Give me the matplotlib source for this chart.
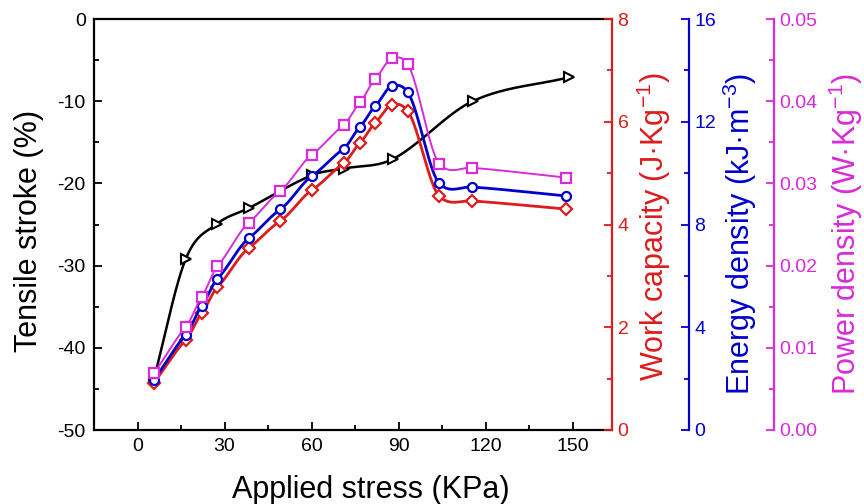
import numpy as np
import matplotlib.pyplot as plt
from matplotlib.ticker import MultipleLocator, FixedLocator, FormatStrFormatter

plt.rcParams['font.family'] = ['Liberation Sans', 'DejaVu Sans']
plt.rcParams['mathtext.fontset'] = 'custom'
plt.rcParams['mathtext.rm'] = 'Liberation Sans'
plt.rcParams['mathtext.it'] = 'Liberation Sans'
plt.rcParams['axes.unicode_minus'] = False

# tensile stroke (black, left axis)
stress_stroke = [5.7, 16.6, 27.5, 38.4, 60.1, 71.0, 88.2, 115.5, 148.6]
stroke = [-43.7, -29.2, -24.9, -23.0, -19.0, -18.2, -17.0, -10.0, -7.1]

# work capacity / energy density / power density (right axes)
stress = [5.7, 16.6, 22.1, 27.5, 38.3, 49.2, 60.1, 71.0, 76.7, 81.9, 87.6, 93.1, 104.0, 115.1, 147.8]
work = [0.92, 1.75, 2.27, 2.78, 3.54, 4.07, 4.67, 5.19, 5.59, 5.98, 6.33, 6.21, 4.55, 4.46, 4.30]
energy = [1.95, 3.70, 4.83, 5.88, 7.46, 8.59, 9.89, 10.95, 11.81, 12.61, 13.39, 13.15, 9.60, 9.46, 9.11]
power = [0.0069, 0.0125, 0.0162, 0.0199, 0.0252, 0.0291, 0.0335, 0.0371, 0.0399,
         0.0427, 0.0452, 0.0445, 0.0324, 0.0319, 0.0307]

RED = '#dd1c1c'
BLUE = '#0000cc'
MAG = '#d92bd9'


def spline(x, y, tension=0.0, n=40):
    # cardinal spline through the points
    x = np.asarray(x, float)
    y = np.asarray(y, float)
    m = np.empty_like(y)
    m[1:-1] = (1 - tension) * (y[2:] - y[:-2]) / (x[2:] - x[:-2])
    m[0] = (y[1] - y[0]) / (x[1] - x[0])
    m[-1] = (y[-1] - y[-2]) / (x[-1] - x[-2])
    xs, ys = [], []
    t = np.linspace(0, 1, n)
    for i in range(len(x) - 1):
        h = x[i + 1] - x[i]
        h00 = 2 * t**3 - 3 * t**2 + 1
        h10 = t**3 - 2 * t**2 + t
        h01 = -2 * t**3 + 3 * t**2
        h11 = t**3 - t**2
        xs.append(x[i] + t * h)
        ys.append(h00 * y[i] + h10 * h * m[i] + h01 * y[i + 1] + h11 * h * m[i + 1])
    return np.concatenate(xs), np.concatenate(ys)


fig = plt.figure(figsize=(8.64, 5.04), dpi=100)
ax = fig.add_axes([94 / 864, 1 - 430 / 504, 518 / 864, 411 / 504])
ax2 = ax.twinx()
ax3 = ax.twinx()
ax4 = ax.twinx()
ax3.spines['right'].set_position(('axes', 1.1486))
ax4.spines['right'].set_position(('axes', 1.3127))

for a in (ax2, ax3, ax4):
    for s in ('left', 'top', 'bottom'):
        a.spines[s].set_visible(False)
ax.spines['right'].set_visible(False)

lw_sp = 1.6
for s in ('left', 'top', 'bottom'):
    ax.spines[s].set_linewidth(lw_sp)

sx, sy = spline(stress_stroke, stroke)
ax.plot(sx, sy, color='black', lw=1.8)
ax.plot(stress_stroke, stroke, ls='none', marker='>', ms=7.5, mfc='white', mec='black', mew=1.5)

for a, vals, col, mk, lw in ((ax2, work, RED, 'D', 2.0), (ax3, energy, BLUE, 'o', 2.0), (ax4, power, MAG, 's', 1.4)):
    sx, sy = spline(stress, vals, tension=0.3)
    a.plot(sx, sy, color=col, lw=lw)
    a.plot(stress, vals, ls='none', marker=mk, ms=6.5 if mk != 'D' else 6,
           mfc='white', mec=col, mew=1.6)
    a.spines['right'].set_color(col)
    a.spines['right'].set_linewidth(lw_sp)
    a.tick_params(axis='y', which='both', direction='in', colors=col, labelsize=14, width=1.3, pad=4)
    a.tick_params(axis='y', which='major', length=6)
    a.tick_params(axis='y', which='minor', length=3.5)

ax.set_xlim(-15, 163.5)
ax.set_ylim(-50, 0)
ax2.set_ylim(0, 8)
ax3.set_ylim(0, 16)
ax4.set_ylim(0, 0.05)

ax.xaxis.set_major_locator(FixedLocator([0, 30, 60, 90, 120, 150]))
ax.xaxis.set_minor_locator(FixedLocator([15, 45, 75, 105, 135]))
ax.yaxis.set_major_locator(MultipleLocator(10))
ax.yaxis.set_minor_locator(FixedLocator([-45, -35, -25, -15, -5]))
ax2.yaxis.set_major_locator(MultipleLocator(2))
ax2.yaxis.set_minor_locator(MultipleLocator(1))
ax3.yaxis.set_major_locator(MultipleLocator(4))
ax3.yaxis.set_minor_locator(MultipleLocator(2))
ax4.yaxis.set_major_locator(MultipleLocator(0.01))
ax4.yaxis.set_minor_locator(MultipleLocator(0.005))
ax4.yaxis.set_major_formatter(FormatStrFormatter('%.2f'))

ax.tick_params(axis='both', which='both', direction='in', labelsize=14, width=1.3, top=False, right=False)
ax.tick_params(axis='both', which='major', length=6, pad=6)
ax.tick_params(axis='both', which='minor', length=3.5)

ax.set_xlabel('Applied stress (KPa)', fontsize=22)
ax.xaxis.set_label_coords(0.535, -0.146)
ax.xaxis.label.set_va('center')
ax.set_ylabel('Tensile stroke (%)', fontsize=22)
ax.yaxis.set_label_coords(-0.125, 0.484)
ax.yaxis.label.set_va('center')

ax2.set_ylabel('Work capacity (J·Kg$^{-1}$)', fontsize=22, color=RED)
ax2.yaxis.set_label_coords(1.081, 0.494)
ax3.set_ylabel('Energy density (kJ·m$^{-3}$)', fontsize=22, color=BLUE)
ax3.yaxis.set_label_coords(1.247, 0.477)
ax4.set_ylabel('Power density (W·Kg$^{-1}$)', fontsize=22, color=MAG)
ax4.yaxis.set_label_coords(1.452, 0.477)
for a in (ax2, ax3, ax4):
    a.yaxis.label.set_va('center')

fig.savefig('out.png', dpi=100)
